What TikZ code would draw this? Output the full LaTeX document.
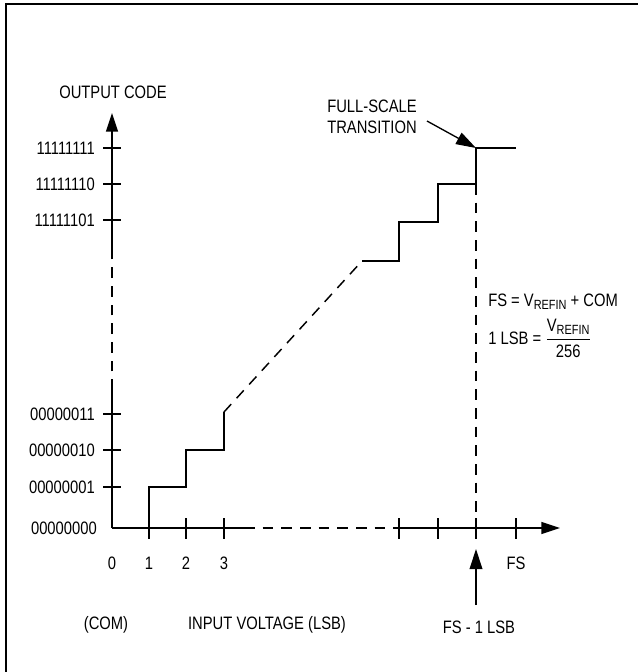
\documentclass[tikz,border=0pt]{standalone}
\usepackage{fontspec}
\setmainfont{Liberation Sans}[FakeStretch=0.82]
\usetikzlibrary{arrows.meta}

\tikzset{
  axis/.style={line width=1.1pt,-{Triangle[length=14pt,width=9pt]}},
  stair/.style={line width=1.1pt},
  guide/.style={line width=1.1pt,dash pattern=on 8pt off 6pt},
  tick/.style={line width=1pt},
  pointer/.style={line width=1pt,-{Triangle[length=15pt,width=9.5pt]}},
}
\newcommand{\vrefin}{V\lower2.5pt\hbox{\fontsize{10}{10}\selectfont REFIN}}

\begin{document}
\begin{tikzpicture}[x=0.75pt,y=-0.75pt,font=\fontsize{13.5}{16}\selectfont]
  \useasboundingbox (0,0) rectangle (638,672);
  \draw[line width=1.6pt] (6,672) -- (6,4) -- (638,4);

  % axes
  \coordinate (O)    at (112,528);
  \coordinate (ytop) at (112,113);
  \coordinate (xend) at (560,528);
  \draw[stair] (O) -- (112,390);
  \draw[guide] (112,390) -- (112,250);
  \draw[axis]  (112,250) -- (ytop);
  \draw[stair] (O) -- (244,528);
  \draw[guide] (244,528) -- (399,528);
  \draw[axis]  (399,528) -- (xend);

  % ticks and codes
  \foreach \y/\code in {148/11111111,184/11111110,220/11111101,
                        414/00000011,450/00000010,487/00000001} {
    \draw[tick] (103,\y) -- (121,\y);
    \node[anchor=east,inner sep=0] (c\code) at (95,\y) {\code};
  }
  \node[anchor=east,inner sep=0] (c00000000) at (97,528) {00000000};
  \foreach \x in {149,186,224,399,438,476,516}
    \draw[tick] (\x,518) -- (\x,539);

  \begin{scope}[every node/.style={inner sep=0}]
    \node (l0)  at (112,563) {0};
    \node (l1)  at (149,563) {1};
    \node (l2)  at (186,563) {2};
    \node (l3)  at (224,563) {3};
    \node (lfs) at (516,563) {FS};
    \node (com)   at (106,625) {(COM)};
    \node (input) at (267,625) {INPUT VOLTAGE (LSB)};
    \node (fsm)   at (479,627) {FS - 1 LSB};
    \node (outc)  at (113,92)  {OUTPUT CODE};
    \node[align=center] (fst) at (372,117) {FULL-SCALE\\TRANSITION};
  \end{scope}

  % transfer function
  \draw[stair] (149,528) |- (186,487) |- (224,450) -- (224,412);
  \draw[guide] (224,412) -- (362,261);
  \draw[stair] (362,261) -| (399,222) -| (438,184) -| (476,148) -- (516,148);
  \draw[guide] (476,184) -- (O -| 476,184);

  % pointers
  \coordinate (fstail) at (427,121);
  \coordinate (fstip)  at (476,148);
  \coordinate (fsmtail) at (476,605);
  \coordinate (fsmtip)  at (476,549);
  \draw[pointer] (fstail) -- (fstip);
  \draw[pointer] (fsmtail) -- (fsmtip);

  % formulas
  \node[anchor=west,inner sep=0] (fsdef)  at (488,302) {FS = \vrefin{} + COM};
  \node[anchor=west,inner sep=0] (lsbdef) at (488,338)
    {1 LSB = $\displaystyle\frac{\hbox{\vrefin}}{\hbox{256}}$};
\end{tikzpicture}
\end{document}
